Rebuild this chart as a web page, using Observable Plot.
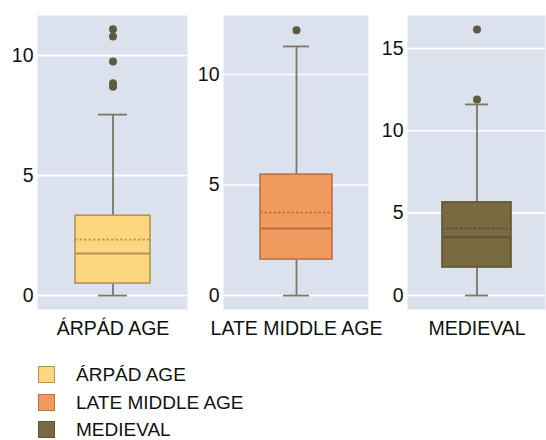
<!DOCTYPE html>
<html>
<head>
<meta charset="utf-8">
<script src="https://cdn.jsdelivr.net/npm/d3@7"></script>
<script src="https://cdn.jsdelivr.net/npm/@observablehq/plot@0.6"></script>
<style>
  body { margin: 0; background: #fff; width: 546px; height: 440px; position: relative; overflow: hidden; font-family: "Liberation Sans", Arial, sans-serif; }
  #row { display: flex; position: absolute; left: 0; top: 0; }
  #row svg { overflow: visible; display: block; }
  #legend { position: absolute; left: 38px; top: 361px; }
  .item { display: flex; align-items: center; height: 27.5px; line-height: 1; font-size: 19px; color: #111; }
  .sw { width: 15px; height: 15px; border: 1.5px solid; margin-right: 21px; flex: none; }
</style>
</head>
<body>
<div id="row"></div>
<div id="legend"></div>
<script>
// ---- data ----
const categories = ["ÁRPÁD AGE", "LATE MIDDLE AGE", "MEDIEVAL"];
const whiskerLow  = [0, 0, 0];
const q1          = [0.5, 1.63, 1.7];
const median      = [1.75, 3.03, 3.53];
const mean        = [2.33, 3.76, 4.07];
const q3          = [3.33, 5.47, 5.65];
const whiskerHigh = [7.54, 11.27, 11.6];
const outliers    = [[11.1, 10.8, 9.75, 8.85, 8.7], [12.0], [11.9, 16.15]];
const yTicks      = [[0, 5, 10], [0, 5, 10], [0, 5, 10, 15]];

// ---- styling ----
const fills   = ["#fdd67f", "#f09a5e", "#786b42"];
const borders = ["#b39452", "#b77245", "#5f5434"];
const meanCol = ["#c98f4e", "#b76a40", "#5a4f30"];
const yDomains = [[-0.58, 11.67], [-0.63, 12.67], [-0.85, 17.0]];
const widths   = [187, 181, 178];
const mLeft    = [37, 36, 39];
const mRight   = [0, 0, 1];
const bg = "#dbe2ee";
const FS = 19.5;

const row = document.getElementById("row");
categories.forEach((cat, i) => {
  const box = [{cat, lo: whiskerLow[i], q1: q1[i], med: median[i], mean: mean[i], q3: q3[i], hi: whiskerHigh[i]}];
  const outs = outliers[i].map(v => ({cat, v}));
  const chart = Plot.plot({
    width: widths[i], height: 345,
    marginLeft: mLeft[i], marginRight: mRight[i], marginTop: 15, marginBottom: 36,
    style: {fontFamily: "Liberation Sans, Arial, sans-serif", fontSize: FS + "px", color: "#111", background: "transparent"},
    x: {type: "band", domain: [cat], padding: 1/3, label: null},
    y: {domain: yDomains[i], label: null},
    marks: [
      Plot.frame({fill: bg, stroke: null}),
      Plot.ruleY(yTicks[i], {stroke: "#fff", strokeWidth: 1.6}),
      Plot.ruleX(box, {x: "cat", y1: "lo", y2: "q1", stroke: "#7b7865", strokeWidth: 1.8}),
      Plot.ruleX(box, {x: "cat", y1: "q3", y2: "hi", stroke: "#7b7865", strokeWidth: 1.8}),
      Plot.tickY(box, {x: "cat", y: "lo", stroke: "#7b7865", strokeWidth: 1.8, inset: 23}),
      Plot.tickY(box, {x: "cat", y: "hi", stroke: "#7b7865", strokeWidth: 1.8, inset: 23}),
      Plot.barY(box, {x: "cat", y1: "q1", y2: "q3", fill: fills[i], stroke: borders[i], strokeWidth: 1.6}),
      Plot.tickY(box, {x: "cat", y: "med", stroke: borders[i], strokeWidth: 2}),
      Plot.tickY(box, {x: "cat", y: "mean", stroke: meanCol[i], strokeWidth: 1.6, strokeDasharray: "2.5,2"}),
      Plot.dot(outs, {x: "cat", y: "v", r: 4, fill: "#5f5a3e", stroke: null}),
      Plot.axisY({ticks: yTicks[i], tickSize: 0, tickPadding: 4, fontSize: FS, label: null}),
      Plot.axisX({tickSize: 0, tickPadding: 12, fontSize: FS, label: null})
    ]
  });
  row.appendChild(chart);
});

const legend = document.getElementById("legend");
categories.forEach((cat, i) => {
  const it = document.createElement("div");
  it.className = "item";
  const sw = document.createElement("div");
  sw.className = "sw";
  sw.style.background = fills[i];
  sw.style.borderColor = borders[i];
  it.appendChild(sw);
  it.appendChild(document.createTextNode(cat));
  legend.appendChild(it);
});
</script>
</body>
</html>
